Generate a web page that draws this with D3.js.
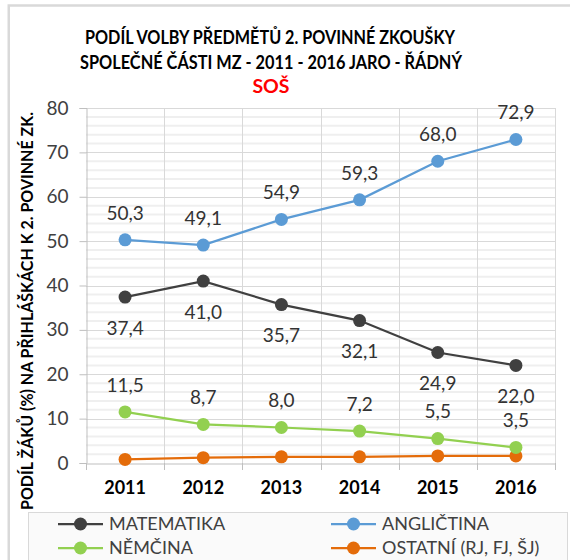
<!DOCTYPE html>
<html><head><meta charset="utf-8">
<script src="https://cdn.jsdelivr.net/npm/d3@7"></script>
<style>html,body{margin:0;padding:0;background:#fff;}svg{display:block;font-family:Lato,"Open Sans",sans-serif;}</style>
</head><body>
<svg id="c" width="570" height="560"></svg>
<script>
const years = ["2011","2012","2013","2014","2015","2016"];
const matematika = [37.4, 41.0, 35.7, 32.1, 24.9, 22.0];
const anglictina = [50.3, 49.1, 54.9, 59.3, 68.0, 72.9];
const nemcina = [11.5, 8.7, 8.0, 7.2, 5.5, 3.5];
const ostatni = [0.8, 1.2, 1.4, 1.4, 1.6, 1.6];
const yTicks = [0,10,20,30,40,50,60,70,80];
const titleLines = ["PODÍL VOLBY PŘEDMĚTŮ 2. POVINNÉ ZKOUŠKY","SPOLEČNÉ ČÁSTI MZ - 2011 - 2016 JARO - ŘÁDNÝ"];
const subtitle = "SOŠ";
const yTitle = "PODÍL ŽÁKŮ (%) NA PŘIHLÁŠKÁCH K 2. POVINNÉ ZK.";

const series = [
  {name:"MATEMATIKA", values:matematika, color:"#404040", label:"below"},
  {name:"ANGLIČTINA", values:anglictina, color:"#5b9bd5", label:"above"},
  {name:"NĚMČINA", values:nemcina, color:"#92d050", label:"above"},
  {name:"OSTATNÍ (RJ, FJ, ŠJ)", values:ostatni, color:"#e46c0a", label:null}
];

const svg = d3.select("#c");
const pL = 86, pR = 555, pT = 108, pB = 463;
const x = d3.scaleBand().domain(years).range([pL, pR]);
const y = d3.scaleLinear().domain([0, 80]).range([pB, pT]);

// outer border
svg.append("rect").attr("x", 8.75).attr("y", 5.5).attr("width", 600).attr("height", 600)
  .attr("fill", "none").attr("stroke", "#d9d9d9").attr("stroke-width", 2.5);

// minor gridlines
const minor = d3.range(2, 80, 2).filter(v => v % 10 !== 0);
svg.append("g").selectAll("line").data(minor).join("line")
  .attr("x1", pL).attr("x2", pR).attr("y1", d => y(d)).attr("y2", d => y(d))
  .attr("stroke", "#efefef").attr("stroke-width", 2);
// major gridlines
svg.append("g").selectAll("line").data(yTicks.filter(v => v > 0)).join("line")
  .attr("x1", pL).attr("x2", pR).attr("y1", d => Math.round(y(d)) + 0.5).attr("y2", d => Math.round(y(d)) + 0.5)
  .attr("stroke", "#d9d9d9").attr("stroke-width", 1);
// vertical gridlines at category boundaries
svg.append("g").selectAll("line").data(years).join("line")
  .attr("x1", d => Math.round(x(d) + x.bandwidth()) + 0.5).attr("x2", d => Math.round(x(d) + x.bandwidth()) + 0.5)
  .attr("y1", pT).attr("y2", pB).attr("stroke", "#d9d9d9");

// y axis
const yAxis = svg.append("g").attr("transform", `translate(${pL + 0.5},0)`)
  .call(d3.axisLeft(y).tickValues(yTicks).tickSize(7).tickPadding(11).tickFormat(d3.format("d")));
yAxis.select(".domain").attr("stroke", "#bfbfbf");
yAxis.selectAll(".tick line").attr("stroke", "#bfbfbf");
yAxis.selectAll(".tick text").attr("fill", "#404040").style("font-size", "19px").style("font-family", "Lato, sans-serif");

// x axis
const xAxis = svg.append("g").attr("transform", `translate(0,${pB + 0.5})`)
  .call(d3.axisBottom(x).tickSize(0).tickPadding(18));
xAxis.select(".domain").attr("stroke", "#bfbfbf");
xAxis.selectAll(".tick text").attr("fill", "#000").style("font-size", "18px").style("font-weight", "bold").style("font-family", "Lato, sans-serif");
svg.append("g").selectAll("line").data([pL].concat(years.map(d => x(d) + x.bandwidth()))).join("line")
  .attr("x1", d => Math.round(d) + 0.5).attr("x2", d => Math.round(d) + 0.5)
  .attr("y1", pB).attr("y2", pB + 7).attr("stroke", "#bfbfbf");

// lines
const cx = d => x(d) + x.bandwidth() / 2;
const line = d3.line().x((v, i) => cx(years[i])).y(v => y(v));
[3, 2, 1, 0].forEach(k => {
  const s = series[k];
  const g = svg.append("g");
  g.append("path").attr("d", line(s.values)).attr("fill", "none").attr("stroke", s.color).attr("stroke-width", 2.25);
  g.selectAll("circle").data(s.values).join("circle")
    .attr("cx", (v, i) => cx(years[i])).attr("cy", v => y(v)).attr("r", 6.5).attr("fill", s.color);
});
// labels
const fmt = v => d3.format(".1f")(v).replace(".", ",");
series.forEach(s => {
  if (!s.label) return;
  svg.append("g").selectAll("text").data(s.values).join("text")
    .attr("x", (v, i) => cx(years[i]))
    .attr("y", v => y(v) + (s.label === "above" ? -27 : 31))
    .attr("dy", "0.36em").attr("text-anchor", "middle")
    .attr("fill", "#333333").style("font-size", "19px")
    .text(fmt);
});

// title
svg.append("text").attr("x", 270).attr("y", 37).attr("dy", "0.36em").attr("text-anchor", "middle")
  .style("font-size", "19.5px").style("font-weight", "bold").attr("fill", "#000")
  .attr("textLength", 370).attr("lengthAdjust", "spacingAndGlyphs").text(titleLines[0]);
svg.append("text").attr("x", 271).attr("y", 62).attr("dy", "0.36em").attr("text-anchor", "middle")
  .style("font-size", "19.5px").style("font-weight", "bold").attr("fill", "#000")
  .attr("textLength", 382).attr("lengthAdjust", "spacingAndGlyphs").text(titleLines[1]);
svg.append("text").attr("x", 271).attr("y", 86).attr("dy", "0.36em").attr("text-anchor", "middle")
  .style("font-size", "19.5px").style("font-weight", "bold").attr("fill", "#ff0000").text(subtitle);

// y title
svg.append("text").attr("transform", "translate(27,311) rotate(-90)").attr("dy", "0.36em")
  .attr("text-anchor", "middle").style("font-size", "17px").style("font-weight", "bold").attr("fill", "#000")
  .attr("textLength", 398).attr("lengthAdjust", "spacingAndGlyphs").text(yTitle);

// legend
svg.append("rect").attr("x", 28.5).attr("y", 512.5).attr("width", 539).attr("height", 70)
  .attr("fill", "#fafafa").attr("stroke", "#d9d9d9");
const legPos = [[58, 524], [331, 524], [58, 548], [331, 548]];
series.forEach((s, i) => {
  const [lx, ly] = legPos[i];
  const g = svg.append("g");
  g.append("line").attr("x1", lx).attr("x2", lx + 45).attr("y1", ly).attr("y2", ly).attr("stroke", s.color).attr("stroke-width", 2.25);
  g.append("circle").attr("cx", lx + 22.5).attr("cy", ly).attr("r", 6.5).attr("fill", s.color);
  g.append("text").attr("x", lx + 51).attr("y", ly).attr("dy", "0.36em").attr("fill", "#404040")
    .style("font-size", "18px").text(s.name);
});
</script>
</body></html>
